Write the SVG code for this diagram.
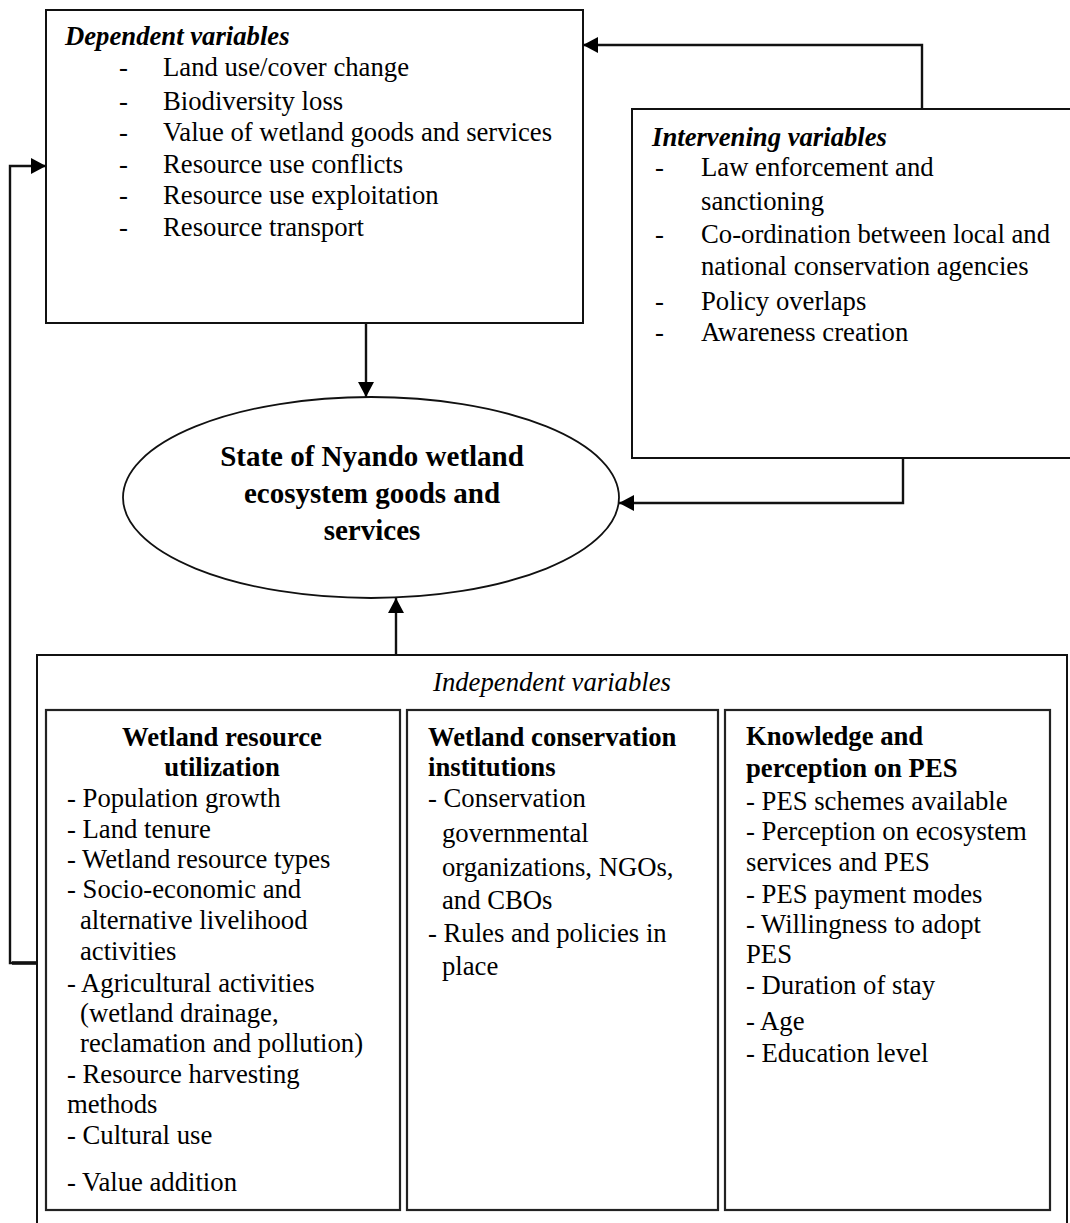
<svg xmlns="http://www.w3.org/2000/svg" width="1070" height="1223" viewBox="0 0 1070 1223">
<defs>
<style>
.box{fill:#fff;stroke:#111;stroke-width:2}
.ibox{fill:#fff;stroke:#222;stroke-width:2.2}
.t{font-family:"Liberation Serif","Times New Roman",serif;font-size:26.7px;fill:#000}
.b{font-weight:bold}
.i{font-style:italic}
.c{text-anchor:middle}
.conn{fill:none;stroke:#111;stroke-width:2.4}
</style>
<marker id="ah" markerUnits="userSpaceOnUse" markerWidth="16" markerHeight="16" refX="15" refY="8" orient="auto">
<path d="M0,0 L15,8 L0,16 z" fill="#000"/>
</marker>
</defs>

<g id="dependent">
<rect class="box" x="46" y="10" width="537" height="313"/>
<text class="t b i" x="65" y="45">Dependent variables</text>
<g class="t">
<text x="119" y="76">-</text><text x="163" y="76">Land use/cover change</text>
<text x="119" y="110">-</text><text x="163" y="110">Biodiversity loss</text>
<text x="119" y="141">-</text><text x="163" y="141">Value of wetland goods and services</text>
<text x="119" y="173">-</text><text x="163" y="173">Resource use conflicts</text>
<text x="119" y="204">-</text><text x="163" y="204">Resource use exploitation</text>
<text x="119" y="236">-</text><text x="163" y="236">Resource transport</text>
</g>
</g>

<g id="intervening">
<rect class="box" x="632" y="109" width="445" height="349"/>
<text class="t b i" x="652" y="146">Intervening variables</text>
<g class="t">
<text x="655" y="176">-</text><text x="701" y="176">Law enforcement and</text>
<text x="701" y="210">sanctioning</text>
<text x="655" y="243">-</text><text x="701" y="243">Co-ordination between local and</text>
<text x="701" y="275">national conservation agencies</text>
<text x="655" y="310">-</text><text x="701" y="310">Policy overlaps</text>
<text x="655" y="341">-</text><text x="701" y="341">Awareness creation</text>
</g>
</g>

<g id="state">
<ellipse cx="371" cy="497.5" rx="248" ry="100.5" fill="#fff" stroke="#111" stroke-width="1.8"/>
<g class="t b c" style="font-size:29px">
<text x="372" y="466">State of Nyando wetland</text>
<text x="372" y="503">ecosystem goods and</text>
<text x="372" y="540">services</text>
</g>
</g>

<g id="independent">
<rect class="box" x="37" y="655" width="1030" height="575"/>
<text class="t i c" x="552" y="691">Independent variables</text>
</g>

<g id="utilization">
<rect class="ibox" x="46" y="710" width="354" height="500"/>
<g class="t">
<text class="b c" x="222" y="746">Wetland resource</text>
<text class="b c" x="222" y="776">utilization</text>
<text x="67" y="807">- Population growth</text>
<text x="67" y="838">- Land tenure</text>
<text x="67" y="868">- Wetland resource types</text>
<text x="67" y="898">- Socio-economic and</text>
<text x="80" y="929">alternative livelihood</text>
<text x="80" y="960">activities</text>
<text x="67" y="992">- Agricultural activities</text>
<text x="80" y="1022">(wetland drainage,</text>
<text x="80" y="1052">reclamation and pollution)</text>
<text x="67" y="1083">- Resource harvesting</text>
<text x="67" y="1113">methods</text>
<text x="67" y="1144">- Cultural use</text>
<text x="67" y="1191">- Value addition</text>
</g>
</g>

<g id="institutions">
<rect class="ibox" x="407" y="710" width="311" height="500"/>
<g class="t">
<text class="b" x="428" y="746">Wetland conservation</text>
<text class="b" x="428" y="776">institutions</text>
<text x="428" y="807">- Conservation</text>
<text x="442" y="842">governmental</text>
<text x="442" y="876">organizations, NGOs,</text>
<text x="442" y="909">and CBOs</text>
<text x="428" y="942">- Rules and policies in</text>
<text x="442" y="975">place</text>
</g>
</g>

<g id="knowledge">
<rect class="ibox" x="725" y="710" width="325" height="500"/>
<g class="t">
<text class="b" x="746" y="745">Knowledge and</text>
<text class="b" x="746" y="777">perception on PES</text>
<text x="746" y="810">- PES schemes available</text>
<text x="746" y="840">- Perception on ecosystem</text>
<text x="746" y="871">services and PES</text>
<text x="746" y="903">- PES payment modes</text>
<text x="746" y="933">- Willingness to adopt</text>
<text x="746" y="963">PES</text>
<text x="746" y="994">- Duration of stay</text>
<text x="746" y="1030">-  Age</text>
<text x="746" y="1062">- Education level</text>
</g>
</g>

<g id="connectors">
<path class="conn" d="M366,323 V397" marker-end="url(#ah)"/>
<path class="conn" d="M922,109 V45 H583" marker-end="url(#ah)"/>
<path class="conn" d="M903,458 V503 H619" marker-end="url(#ah)"/>
<path class="conn" d="M396,655 V598" marker-end="url(#ah)"/>
<path class="conn" d="M37,963 H10 V166 H46" marker-end="url(#ah)"/>
<path d="M12,963 H37" stroke="#111" stroke-width="3.5" fill="none"/>
</g>
</svg>
